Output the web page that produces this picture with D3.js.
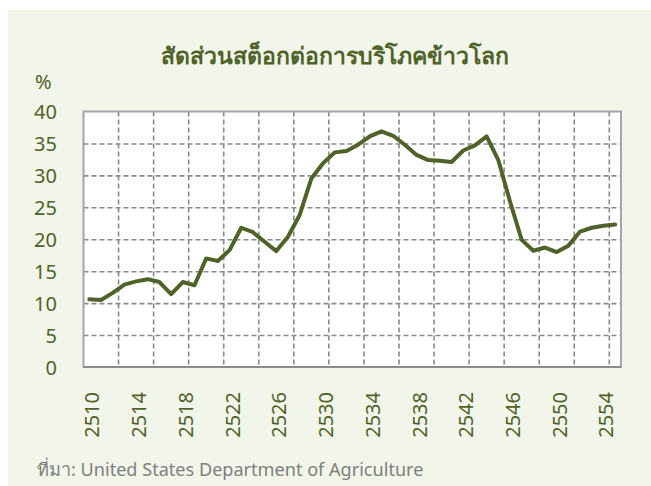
<!DOCTYPE html>
<html>
<head>
<meta charset="utf-8">
<script src="https://cdn.jsdelivr.net/npm/d3@7"></script>
<style>
  html, body { margin: 0; padding: 0; background: #ffffff; }
  svg { display: block; }
</style>
</head>
<body>
<div id="chart"></div>
<script>
const TITLE = 'สัดส่วนสต็อกต่อการบริโภคข้าวโลก';
const UNIT = '%';
const SOURCE = 'ที่มา: United States Department of Agriculture';

// Thai Buddhist-era crop years, 2510..2555
const years = [
  2510, 2511, 2512, 2513, 2514, 2515, 2516, 2517, 2518, 2519,
  2520, 2521, 2522, 2523, 2524, 2525, 2526, 2527, 2528, 2529,
  2530, 2531, 2532, 2533, 2534, 2535, 2536, 2537, 2538, 2539,
  2540, 2541, 2542, 2543, 2544, 2545, 2546, 2547, 2548, 2549,
  2550, 2551, 2552, 2553, 2554, 2555
];

// stock-to-use ratio, %
const ratio = [
  10.6, 10.5, 11.6, 12.9, 13.4, 13.75, 13.3, 11.4, 13.3, 12.8,
  17.0, 16.6, 18.3, 21.8, 21.1, 19.6, 18.15, 20.4, 23.8, 29.5,
  31.9, 33.6, 33.8, 34.8, 36.1, 36.9, 36.2, 34.8, 33.2, 32.4,
  32.3, 32.1, 33.9, 34.7, 36.1, 32.4, 25.9, 19.9, 18.2, 18.7,
  18.0, 19.0, 21.2, 21.8, 22.1, 22.3
];

const yTicks = [0, 5, 10, 15, 20, 25, 30, 35, 40];
const xTickLabels = [2510, 2514, 2518, 2522, 2526, 2530, 2534, 2538, 2542, 2546, 2550, 2554];

const W = 651, H = 486;
const PLOT = { left: 83.5, right: 621, top: 111.5, bottom: 367 };
const GREEN = '#4f6228';
const FONT = '"Noto Sans", "DejaVu Sans", sans-serif';

const svg = d3.select('#chart').append('svg')
  .attr('width', W)
  .attr('height', H);

svg.append('rect')
  .attr('x', 8).attr('y', 10)
  .attr('width', W - 8).attr('height', H - 10)
  .attr('fill', '#f2f5ea');

const x = d3.scaleBand()
  .domain(years)
  .range([PLOT.left, PLOT.right])
  .padding(0);

const y = d3.scaleLinear()
  .domain([0, 40])
  .range([PLOT.bottom, PLOT.top]);

svg.append('rect')
  .attr('x', PLOT.left).attr('y', PLOT.top)
  .attr('width', PLOT.right - PLOT.left)
  .attr('height', PLOT.bottom - PLOT.top)
  .attr('fill', '#ffffff');

// horizontal grid
const hGrid = d3.axisLeft(y)
  .tickValues(yTicks.filter(d => d > 0 && d < 40))
  .tickSize(-(PLOT.right - PLOT.left))
  .tickFormat('');

svg.append('g')
  .attr('transform', `translate(${PLOT.left},0)`)
  .call(hGrid)
  .call(g => g.select('.domain').remove())
  .call(g => g.selectAll('line')
    .attr('stroke', '#8a8a8a')
    .attr('stroke-width', 1.6)
    .attr('stroke-dasharray', '5,3'));

// vertical grid every third category boundary
const vYears = years.filter((d, i) => i > 0 && i % 3 === 0);
svg.append('g')
  .selectAll('line')
  .data(vYears)
  .join('line')
  .attr('x1', d => x(d)).attr('x2', d => x(d))
  .attr('y1', PLOT.top).attr('y2', PLOT.bottom)
  .attr('stroke', '#8a8a8a')
  .attr('stroke-width', 1.6)
  .attr('stroke-dasharray', '5,3');

// plot frame
svg.append('rect')
  .attr('x', PLOT.left).attr('y', PLOT.top)
  .attr('width', PLOT.right - PLOT.left)
  .attr('height', PLOT.bottom - PLOT.top)
  .attr('fill', 'none')
  .attr('stroke', '#a6a6a6')
  .attr('stroke-width', 2);

svg.append('line')
  .attr('x1', PLOT.left).attr('x2', PLOT.right)
  .attr('y1', PLOT.bottom).attr('y2', PLOT.bottom)
  .attr('stroke', '#8c8c8c')
  .attr('stroke-width', 2);

// y axis labels
const yAxis = d3.axisLeft(y)
  .tickValues(yTicks)
  .tickSize(0)
  .tickPadding(0);

svg.append('g')
  .attr('transform', `translate(57,0)`)
  .call(yAxis)
  .call(g => g.select('.domain').remove())
  .call(g => g.selectAll('text')
    .attr('fill', GREEN)
    .style('font-family', FONT)
    .style('font-size', '20px')
    .attr('dy', '0.35em'));

// x axis labels, rotated
const xAxis = d3.axisBottom(x)
  .tickValues(xTickLabels)
  .tickSize(0)
  .tickPadding(0);

svg.append('g')
  .call(xAxis)
  .call(g => g.select('.domain').remove())
  .call(g => g.selectAll('.tick').attr('transform', d => `translate(${x(d) + x.bandwidth() / 2 + 3},0)`))
  .call(g => g.selectAll('text')
    .attr('fill', GREEN)
    .style('font-family', FONT)
    .style('font-size', '20px')
    .attr('text-anchor', 'end')
    .attr('transform', 'rotate(-90)')
    .attr('x', -392)
    .attr('y', 0)
    .attr('dy', '0.35em'));

// line
const line = d3.line()
  .x((d, i) => x(years[i]) + x.bandwidth() / 2)
  .y(d => y(d));

svg.append('path')
  .datum(ratio)
  .attr('d', line)
  .attr('fill', 'none')
  .attr('stroke', GREEN)
  .attr('stroke-width', 4)
  .attr('stroke-linejoin', 'round')
  .attr('stroke-linecap', 'round');

// texts
svg.append('text')
  .attr('x', 335).attr('y', 64)
  .attr('text-anchor', 'middle')
  .attr('fill', GREEN)
  .style('font-family', FONT)
  .style('font-size', '23px')
  .style('font-weight', 'bold')
  .text(TITLE);

svg.append('text')
  .attr('x', 35).attr('y', 89)
  .attr('fill', GREEN)
  .style('font-family', FONT)
  .style('font-size', '20px')
  .text(UNIT);

svg.append('text')
  .attr('x', 37).attr('y', 476)
  .attr('fill', '#7f7f7f')
  .style('font-family', FONT)
  .style('font-size', '18.1px')
  .text(SOURCE);
</script>
</body>
</html>
